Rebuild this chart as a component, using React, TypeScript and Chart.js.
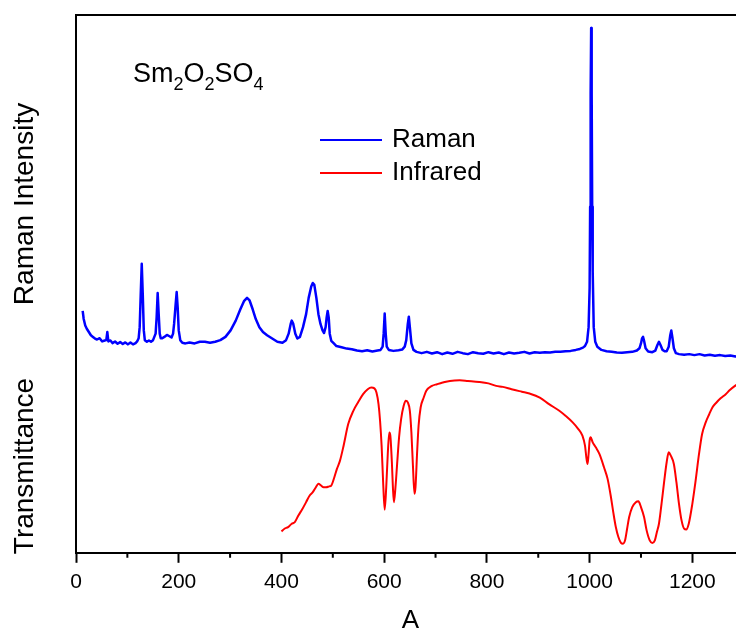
import { useEffect, useRef } from 'react';
import { Chart, registerables } from 'chart.js';

Chart.register(...registerables);

// Raman spectrum (wavenumber, relative intensity, strongest peak = 100)
const ramanWavenumber = [
  13, 15, 18, 21, 25, 29, 33, 37, 41, 46, 51, 56, 59, 61, 63, 67, 71, 76, 81, 86, 91, 96, 101, 106, 111, 116, 119,
  122, 124, 126, 128, 130, 132, 134, 138, 142, 146, 150, 155, 157, 159, 161, 163, 165, 168, 172, 177, 182, 186, 189,
  191, 194, 196, 198, 200, 203, 207, 213, 221, 231, 241, 251, 261, 271, 281, 291, 301, 311, 320, 327, 333, 338, 344,
  350, 357, 364, 372, 382, 392, 402, 409, 414, 418, 420, 423, 427, 431, 436, 442, 448, 453, 458, 461, 464, 468, 472,
  476, 480, 483, 486, 488, 490, 492, 494, 497, 502, 507, 517, 527, 537, 547, 557, 567, 577, 587, 593, 597, 599, 601,
  603, 605, 609, 618, 628, 635, 640, 643, 646, 648, 650, 653, 657, 663, 673, 683, 693, 703, 713, 723, 733, 743, 753,
  763, 773, 783, 793, 803, 813, 823, 833, 843, 853, 863, 873, 883, 893, 903, 913, 923, 933, 943, 953, 963, 973, 981,
  987, 991, 995, 998, 1000, 1001, 1002, 1003, 1004, 1005, 1006, 1008, 1011, 1015, 1023, 1033, 1043, 1053, 1063, 1073,
  1083, 1092, 1097, 1100, 1102, 1104, 1106, 1109, 1114, 1122, 1128, 1132, 1135, 1138, 1142, 1146, 1150, 1154, 1157,
  1159, 1161, 1164, 1168, 1174, 1184, 1194, 1204, 1214, 1224, 1234, 1244, 1254, 1264, 1274, 1284, 1294,
];
const ramanIntensity = [
  13, 10.5, 8.5, 7.5, 6.5, 5.5, 5, 4.5, 4.2, 4.6, 3.6, 3.9, 4, 6.5, 3.6, 3.9, 3.1, 3.6, 2.9, 3.4, 2.8, 3.3, 2.7, 3.3, 2.7, 3.1, 3.6,
  4.6, 8, 18, 27.5, 18, 7, 4, 3.5, 3.9, 3.5, 4, 6, 11, 18.5, 12, 6, 4.6, 4.6, 5, 5.6, 5.2, 4.8, 6,
  9, 15, 18.8, 14, 7, 4, 3.2, 3, 3.3, 3, 3.5, 3.5, 3.2, 3.5, 4, 5, 7, 10, 13.5, 16, 17, 16.2, 13.5,
  10.5, 8, 6.5, 5.5, 4.5, 3.5, 3.2, 4, 6, 9, 10, 9, 6, 4.5, 5, 8, 12, 17, 20.5, 21.6, 21, 17, 12,
  9, 7, 6.2, 8, 11, 13, 11, 6, 3.8, 3, 2.2, 1.8, 1.4, 1.2, 0.8, 0.6, 0.9, 0.5, 0.8, 1, 2, 6, 12.2,
  6, 2, 1, 0.7, 0.9, 1.1, 2, 4, 9, 11.2, 8, 3, 1, 0.4, 0, 0.4, -0.1, 0.3, -0.3, 0.2, -0.2, 0.4, 0,
  -0.3, 0.3, 0, -0.2, 0.3, -0.1, 0.2, -0.3, 0.2, -0.1, 0.1, 0.4, -0.1, 0.3, 0.1, 0.3, 0.2, 0.4, 0.4, 0.6, 0.7, 1, 1.3,
  1.7, 2.2, 3.5, 8, 20, 45, 80, 100, 80, 45, 25, 8, 3.5, 2, 1, 0.6, 0.4, 0.2, 0.1, 0.3,
  0.4, 0.8, 1.5, 3, 4.5, 5, 3.8, 1.5, 0.5, 0.3, 0.8, 2.5, 3.5, 2.5, 1, 0.6, 0.6, 2, 5.5,
  7, 5, 1.5, 0, -0.3, -0.5, -0.3, -0.6, -0.3, -0.7, -0.5, -0.8, -0.6, -0.9, -0.7, -1, -0.9,
];

// Infrared spectrum (wavenumber, relative transmittance %)
const irWavenumber = [
  400, 406, 413, 420, 426, 433, 441, 448, 455, 461, 467, 472, 477, 482, 487, 493, 497, 503, 508, 514, 521, 530, 540,
  549, 559, 568, 575, 581, 585, 589, 592, 595, 598, 601, 604, 607, 610, 612, 615, 617, 619, 622, 625, 629, 633, 638,
  642, 646, 650, 653, 656, 659, 661, 664, 667, 671, 677, 682, 693, 703, 714, 728, 747, 763, 785, 803, 818, 831, 848,
  868, 883, 903, 921, 941, 953, 967, 978, 986, 991, 994, 996, 998, 1000, 1002, 1006, 1012, 1019, 1028, 1035, 1041, 1046,
  1051, 1056, 1061, 1065, 1069, 1073, 1077, 1083, 1090, 1095, 1100, 1106, 1111, 1117, 1122, 1127, 1131, 1135, 1140,
  1145, 1150, 1154, 1158, 1164, 1169, 1174, 1179, 1184, 1188, 1193, 1200, 1206, 1213, 1219, 1226, 1233, 1239, 1247,
  1255, 1265, 1273, 1283, 1293,
];
const irTransmittance = [
  8.4, 10, 11, 13, 14, 18, 22, 26, 30, 32, 35, 37, 36, 35, 35, 35.5, 36, 41, 46, 51, 60, 73, 81,
  86, 91, 94, 95, 94.5, 92, 85, 75, 60, 38, 21.5, 35, 55, 68, 66, 50, 35, 26, 35, 48, 65, 76, 84,
  87, 86, 81, 68, 48, 31, 35, 55, 72, 83, 89, 93, 96, 97, 98, 99, 99.4, 99, 98.4, 97.5, 96, 95.4, 94,
  92.5, 91.4, 89, 85, 81, 78, 74, 70, 66, 60, 52, 49, 55, 63, 65, 62, 59, 55, 47, 40, 30, 20,
  11, 5, 1.5, 1, 3, 10, 17, 23, 26, 26.5, 23, 17, 9, 3, 1.4, 3, 8, 13, 25,
  38, 50, 56, 54, 49, 38, 25, 15, 10, 9.5, 13, 25, 38, 55, 67, 74, 79, 83, 86,
  88.5, 91, 93.5, 96, 98,
];

const seriesLabels = ['Raman', 'Infrared'];
const seriesColors = ['#0000ff', '#ff0000'];
const yTitles = ['Raman Intensity', 'Transmittance'];
const xTitle = 'A';
const xMajorTicks = [0, 200, 400, 600, 800, 1000, 1200];
const xMinorTicks = [100, 300, 500, 700, 900, 1100];
// chemical formula pieces: [text, isSubscript]
const formulaParts: [string, boolean][] = [
  ['Sm', false], ['2', true], ['O', false], ['2', true], ['SO', false], ['4', true],
];

const FONT = "'Liberation Sans', Arial, sans-serif";

const overlayPlugin = {
  id: 'overlay',
  afterDraw(chart: any) {
    const { ctx, chartArea: a, scales } = chart;
    const xs = scales.x;
    ctx.save();
    ctx.strokeStyle = '#000';
    ctx.lineWidth = 2;
    ctx.beginPath();
    ctx.moveTo(a.left, a.bottom);
    ctx.lineTo(a.left, a.top);
    ctx.lineTo(a.right + 2, a.top);
    ctx.stroke();
    ctx.beginPath();
    xMinorTicks.forEach((v) => {
      const px = xs.getPixelForValue(v);
      ctx.moveTo(px, a.bottom);
      ctx.lineTo(px, a.bottom + 5);
    });
    ctx.stroke();

    ctx.fillStyle = '#000';
    // y titles
    ctx.font = `28px ${FONT}`;
    ctx.textAlign = 'center';
    ctx.textBaseline = 'middle';
    const yCenters = [204, 466];
    yTitles.forEach((t, i) => {
      ctx.save();
      ctx.translate(25, yCenters[i]);
      ctx.rotate(-Math.PI / 2);
      ctx.fillText(t, 0, 0);
      ctx.restore();
    });
    // x title
    ctx.font = `26px ${FONT}`;
    ctx.fillText(xTitle, 410.5, 621);

    // legend
    ctx.textAlign = 'left';
    ctx.font = `26px ${FONT}`;
    seriesLabels.forEach((lab, i) => {
      const y = 140 + i * 33;
      ctx.strokeStyle = seriesColors[i];
      ctx.lineWidth = 2;
      ctx.beginPath();
      ctx.moveTo(320, y);
      ctx.lineTo(382, y);
      ctx.stroke();
      ctx.fillStyle = '#000';
      ctx.fillText(lab, 392, y);
    });

    // formula
    ctx.textBaseline = 'alphabetic';
    let fx = 133;
    const base = 82;
    formulaParts.forEach(([t, sub]) => {
      ctx.font = sub ? `18px ${FONT}` : `27px ${FONT}`;
      ctx.fillText(t, fx, sub ? base + 8 : base);
      fx += ctx.measureText(t).width;
    });
    ctx.restore();
  },
};

export default function App() {
  const ref = useRef<HTMLCanvasElement | null>(null);
  useEffect(() => {
    if (!ref.current) return;
    const chart = new Chart(ref.current, {
      type: 'line',
      data: {
        datasets: [
          {
            label: seriesLabels[0],
            data: ramanWavenumber.map((x, i) => ({ x, y: ramanIntensity[i] })),
            borderColor: seriesColors[0],
            borderWidth: 2.5,
            borderJoinStyle: 'round',
            pointRadius: 0,
            tension: 0,
            yAxisID: 'yR',
          },
          {
            label: seriesLabels[1],
            data: irWavenumber.map((x, i) => ({ x, y: irTransmittance[i] })),
            borderColor: seriesColors[1],
            borderWidth: 2,
            pointRadius: 0,
            cubicInterpolationMode: 'monotone',
            yAxisID: 'yT',
          },
        ],
      },
      options: {
        responsive: false,
        animation: false,
        layout: { padding: { left: 76, top: 15, right: 0, bottom: 30 } },
        plugins: { legend: { display: false }, tooltip: { enabled: false } },
        scales: {
          x: {
            type: 'linear',
            min: 0,
            max: 1285,
            afterBuildTicks: (s: any) => {
              s.ticks = xMajorTicks.map((v) => ({ value: v }));
            },
            ticks: {
              font: { family: FONT, size: 21 },
              color: '#000',
              padding: 7,
              maxRotation: 0,
              autoSkip: false,
              callback: (v: any) => String(v),
            },
            grid: {
              display: true,
              drawOnChartArea: false,
              drawTicks: true,
              tickLength: 10,
              tickWidth: 2,
              tickColor: '#000',
            },
            border: { display: true, color: '#000', width: 2 },
          },
          yR: { display: false, min: -61.4, max: 104 },
          yT: { display: false, min: -4.5, max: 319.3 },
        },
      },
      plugins: [overlayPlugin],
    });
    return () => chart.destroy();
  }, []);
  return (
    <div style={{ position: 'absolute', left: 0, top: 0, width: 736, height: 632, background: '#fff' }}>
      <canvas ref={ref} width={736} height={632} style={{ display: 'block' }} />
    </div>
  );
}
